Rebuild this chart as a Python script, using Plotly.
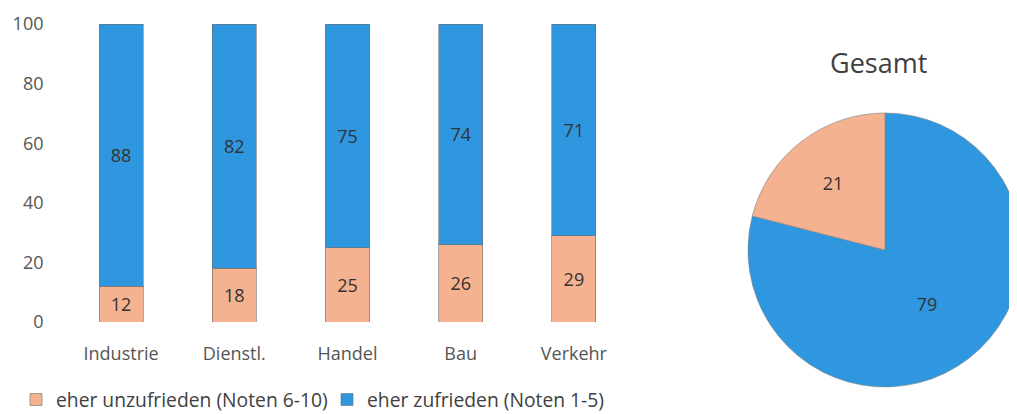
import plotly.graph_objects as go

categories = ["Industrie", "Dienstl.", "Handel", "Bau", "Verkehr"]
unzufrieden = [12, 18, 25, 26, 29]
zufrieden = [88, 82, 75, 74, 71]
series_names = ["eher unzufrieden (Noten 6-10)", "eher zufrieden (Noten 1-5)"]
pie_labels = ["eher zufrieden (Noten 1-5)", "eher unzufrieden (Noten 6-10)"]
pie_values = [79, 21]
y_ticks = [0, 20, 40, 60, 80, 100]

ORANGE = "#f5b290"
BLUE = "#2f97e0"
FONT = "'Open Sans', sans-serif"
TXT = "#555555"

W, H = 1017, 414
OFF = 8  # page body offset in screenshot


def px_x(sx):
    return (sx - OFF) / W


def px_y(sy):
    return (H - (sy - OFF)) / H


fig = go.Figure()
fig.add_trace(go.Bar(
    x=categories, y=unzufrieden, name=series_names[0], legend="legend",
    marker=dict(color=ORANGE, line=dict(color="rgba(110,110,110,0.6)", width=1)),
    text=unzufrieden, textposition="inside", insidetextanchor="middle",
    textfont=dict(color="#333333", size=18, family=FONT),
))
fig.add_trace(go.Bar(
    x=categories, y=zufrieden, name=series_names[1], legend="legend2",
    marker=dict(color=BLUE, line=dict(color="rgba(110,110,110,0.6)", width=1)),
    text=zufrieden, textposition="inside", insidetextanchor="middle",
    textfont=dict(color="#333333", size=18, family=FONT),
))
fig.add_trace(go.Pie(
    labels=pie_labels, values=pie_values, sort=False,
    direction="clockwise", rotation=0,
    marker=dict(colors=[BLUE, ORANGE], line=dict(color="rgba(130,130,130,0.6)", width=1)),
    textinfo="value", textposition="inside", insidetextorientation="horizontal",
    textfont=dict(color="#333333", size=18, family=FONT),
    showlegend=False,
    domain=dict(x=[px_x(748), px_x(1022)], y=[px_y(387), px_y(113)]),
))

legend_common = dict(orientation="h", xanchor="left", yanchor="middle",
                     font=dict(size=19.3, color="#404040", family=FONT),
                     bgcolor="rgba(0,0,0,0)", borderwidth=0)

fig.update_layout(
    template="none",
    width=W, height=H,
    margin=dict(l=0, r=0, t=0, b=0),
    paper_bgcolor="white", plot_bgcolor="white",
    barmode="stack", bargap=0.61,
    font=dict(family=FONT, color=TXT, size=18),
    xaxis=dict(domain=[px_x(64.5), px_x(630.5)], showgrid=False, zeroline=False,
               showline=False, ticks="", tickfont=dict(size=18, color=TXT),
               range=[-0.5, 4.5], automargin=False, ticklabelstandoff=19),
    yaxis=dict(domain=[px_y(322), px_y(24)], range=[0, 100],
               tickvals=y_ticks, showgrid=False, zeroline=False, showline=False,
               ticks="", tickfont=dict(size=18, color=TXT), ticklabelstandoff=20,
               automargin=False),
    legend=dict(x=px_x(57 - 41), y=px_y(400), **legend_common),
    legend2=dict(x=px_x(368 - 41), y=px_y(400), **legend_common),
    annotations=[dict(text="Gesamt", x=px_x(878), y=px_y(62), xref="paper",
                      yref="paper", showarrow=False, xanchor="center", yanchor="middle",
                      font=dict(size=27, color="#404040", family=FONT))],
)

fig.write_html("out.html")
